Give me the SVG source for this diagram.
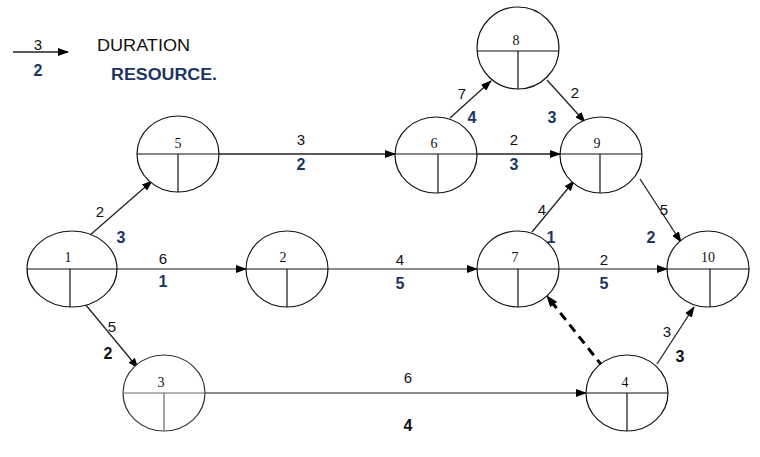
<svg xmlns="http://www.w3.org/2000/svg" width="760" height="457" viewBox="0 0 760 457">
<defs>
<marker id="ah" markerWidth="11" markerHeight="8" refX="10" refY="4" orient="auto" markerUnits="userSpaceOnUse">
<path d="M0,0 L11,4 L0,8 Z" fill="#000"/>
</marker>
<marker id="ahd" markerWidth="12" markerHeight="9" refX="11" refY="4.5" orient="auto" markerUnits="userSpaceOnUse">
<path d="M0,0 L12,4.5 L0,9 Z" fill="#000"/>
</marker>
</defs>
<style>
.node ellipse{fill:#fff;stroke:#111;stroke-width:1.2}
.node line{stroke:#111;stroke-width:1.2}
.node.light line{stroke:#666}
.node.light ellipse{stroke:#333}
.nl{font-family:"Liberation Serif",serif;font-size:14px;fill:#111;text-anchor:middle}
.e{stroke:#222;stroke-width:1.3;fill:none}
.eg{stroke:#666;stroke-width:1.5;fill:none}
.d{font-family:"Liberation Sans",Arial,sans-serif;font-size:15px;fill:#111;text-anchor:middle}
.r{font-family:"Liberation Sans",Arial,sans-serif;font-size:16px;font-weight:bold;fill:#1c3463;text-anchor:middle}
.rk{font-family:"Liberation Sans",Arial,sans-serif;font-size:16px;font-weight:bold;fill:#111;text-anchor:middle}
</style>
<rect width="760" height="457" fill="#fff"/>
<g id="legend">
<line x1="13" y1="52" x2="68" y2="52" class="e" marker-end="url(#ah)"/>
<text x="38" y="50" class="d">3</text>
<text x="38" y="76" class="r">2</text>
<text x="97" y="51" font-family="Liberation Sans,Arial,sans-serif" font-size="16" fill="#111" textLength="93" lengthAdjust="spacingAndGlyphs">DURATION</text>
<text x="111" y="80" font-family="Liberation Sans,Arial,sans-serif" font-size="16" font-weight="bold" fill="#1c3463" textLength="106" lengthAdjust="spacingAndGlyphs">RESOURCE.</text>
</g>
<g id="connectors">
<line x1="89" y1="236" x2="152" y2="181" class="e" marker-end="url(#ah)"/>
<line x1="117" y1="269" x2="246" y2="269" class="eg" marker-end="url(#ah)"/>
<line x1="85" y1="304" x2="138" y2="368" class="e" marker-end="url(#ah)"/>
<line x1="219" y1="154" x2="395" y2="154" class="e" marker-end="url(#ah)"/>
<line x1="450" y1="118" x2="491" y2="81" class="e" marker-end="url(#ah)"/>
<line x1="547" y1="80" x2="585" y2="122" class="e" marker-end="url(#ah)"/>
<line x1="477" y1="154" x2="560" y2="154" class="e" marker-end="url(#ah)"/>
<line x1="328" y1="269" x2="477" y2="269" class="eg" marker-end="url(#ah)"/>
<line x1="532" y1="232" x2="574" y2="181" class="e" marker-end="url(#ah)"/>
<line x1="640" y1="179" x2="681" y2="242" class="e" marker-end="url(#ah)"/>
<line x1="559" y1="269" x2="667" y2="269" class="eg" marker-end="url(#ah)"/>
<line x1="205" y1="393" x2="586" y2="393" class="eg" stroke-width="1.2" marker-end="url(#ah)"/>
<line x1="603" y1="367" x2="547" y2="296" stroke="#000" stroke-width="3" stroke-dasharray="9,6" marker-end="url(#ahd)"/>
<line x1="657" y1="364" x2="694" y2="307" class="e" marker-end="url(#ah)"/>
</g>
<g id="labels">
<text x="100" y="217" class="d">2</text>
<text x="121" y="243" class="r">3</text>
<text x="163" y="264" class="d">6</text>
<text x="163" y="287" class="r">1</text>
<text x="112" y="332" class="d">5</text>
<text x="108" y="359" class="rk">2</text>
<text x="301" y="145" class="d">3</text>
<text x="301" y="170" class="r">2</text>
<text x="462" y="99" class="d">7</text>
<text x="472" y="123" class="r">4</text>
<text x="575" y="98" class="d">2</text>
<text x="552" y="123" class="r">3</text>
<text x="514" y="145" class="d">2</text>
<text x="514" y="170" class="r">3</text>
<text x="400" y="265" class="d">4</text>
<text x="400" y="289" class="r">5</text>
<text x="542" y="215" class="d">4</text>
<text x="551" y="243" class="r">1</text>
<text x="664" y="215" class="d">5</text>
<text x="651" y="243" class="r">2</text>
<text x="604" y="265" class="d">2</text>
<text x="604" y="289" class="r">5</text>
<text x="408" y="383" class="d">6</text>
<text x="408" y="431" class="rk">4</text>
<text x="667" y="337" class="d">3</text>
<text x="680" y="362" class="rk">3</text>
</g>
<g id="node1" class="node"><ellipse cx="72" cy="269" rx="45" ry="38"/><line x1="27" y1="269" x2="117" y2="269"/><line x1="70" y1="269" x2="70" y2="307"/><text x="68" y="262" class="nl">1</text></g>
<g id="node5" class="node"><ellipse cx="178" cy="154" rx="41" ry="38"/><line x1="137" y1="154" x2="219" y2="154"/><line x1="178" y1="154" x2="178" y2="192"/><text x="178" y="148" class="nl">5</text></g>
<g id="node6" class="node"><ellipse cx="436" cy="155" rx="41" ry="38"/><line x1="395" y1="154" x2="477" y2="154"/><line x1="438" y1="154" x2="438" y2="193"/><text x="434" y="148" class="nl">6</text></g>
<g id="node8" class="node"><ellipse cx="518" cy="48" rx="41" ry="41"/><line x1="477" y1="51" x2="559" y2="51"/><line x1="518" y1="51" x2="518" y2="89"/><text x="516" y="45" class="nl">8</text></g>
<g id="node9" class="node"><ellipse cx="601" cy="155" rx="41" ry="38"/><line x1="560" y1="154" x2="642" y2="154"/><line x1="600" y1="154" x2="600" y2="193"/><text x="597" y="148" class="nl">9</text></g>
<g id="node2" class="node"><ellipse cx="287" cy="269" rx="41" ry="38"/><line x1="246" y1="269" x2="328" y2="269"/><line x1="287" y1="269" x2="287" y2="307"/><text x="283" y="262" class="nl">2</text></g>
<g id="node7" class="node"><ellipse cx="518" cy="269" rx="41" ry="38"/><line x1="477" y1="269" x2="559" y2="269"/><line x1="518" y1="269" x2="518" y2="307"/><text x="515" y="262" class="nl">7</text></g>
<g id="node10" class="node"><ellipse cx="708" cy="269" rx="41" ry="38"/><line x1="667" y1="269" x2="749" y2="269"/><line x1="710" y1="269" x2="710" y2="307" stroke="#666"/><text x="708" y="262" class="nl">10</text></g>
<g id="node3" class="node light"><ellipse cx="164" cy="393" rx="41" ry="38"/><line x1="123" y1="393" x2="205" y2="393"/><line x1="164" y1="393" x2="164" y2="431"/><text x="161" y="387" class="nl" fill="#444">3</text></g>
<g id="node4" class="node"><ellipse cx="627" cy="393" rx="41" ry="38"/><line x1="586" y1="393" x2="668" y2="393" stroke="#555"/><line x1="627" y1="393" x2="627" y2="431"/><text x="625" y="387" class="nl">4</text></g>
</svg>
